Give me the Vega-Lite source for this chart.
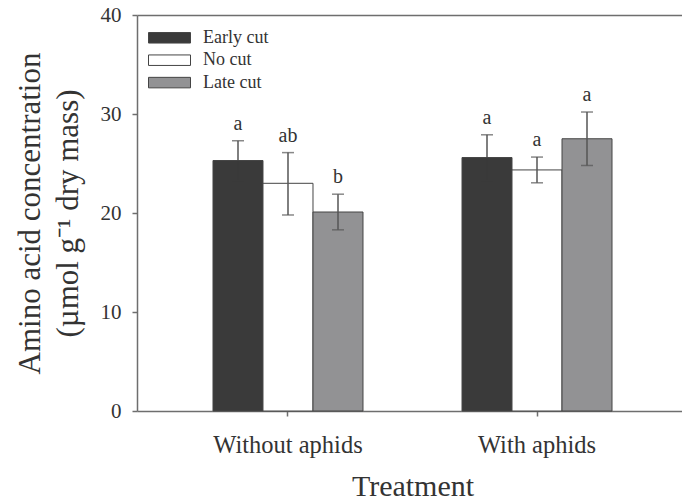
{
  "$schema": "https://vega.github.io/schema/vega-lite/v6.json",
  "autosize": {"type": "none"},
  "padding": {"left": 137, "top": 15, "right": 0, "bottom": 93},
  "width": 545,
  "height": 396,
  "background": "white",
  "config": {
    "view": {"stroke": null},
    "font": "Liberation Serif"
  },
  "data": {
    "values": [
      {"treatment": "Without aphids", "cut": "Early cut", "mean": 25.3, "lo": 23.3, "hi": 27.3, "letter": "a"},
      {"treatment": "Without aphids", "cut": "No cut", "mean": 23.0, "lo": 19.8, "hi": 26.1, "letter": "ab"},
      {"treatment": "Without aphids", "cut": "Late cut", "mean": 20.1, "lo": 18.3, "hi": 21.9, "letter": "b"},
      {"treatment": "With aphids", "cut": "Early cut", "mean": 25.6, "lo": 23.3, "hi": 27.9, "letter": "a"},
      {"treatment": "With aphids", "cut": "No cut", "mean": 24.35, "lo": 23.05, "hi": 25.65, "letter": "a"},
      {"treatment": "With aphids", "cut": "Late cut", "mean": 27.5, "lo": 24.8, "hi": 30.2, "letter": "a"}
    ]
  },
  "encoding": {
    "x": {
      "field": "treatment", "type": "nominal",
      "sort": ["Without aphids", "With aphids"],
      "scale": {"range": [0, 551], "paddingInner": 0.3976, "paddingOuter": 0.3052},
      "axis": null
    },
    "xOffset": {
      "field": "cut", "type": "nominal",
      "sort": ["Early cut", "No cut", "Late cut"],
      "scale": {"paddingInner": 0, "paddingOuter": 0}
    }
  },
  "layer": [
    {
      "mark": {"type": "bar", "stroke": "#444", "strokeWidth": 1},
      "encoding": {
        "x": {
          "field": "treatment", "type": "nominal",
          "sort": ["Without aphids", "With aphids"],
          "title": "Treatment",
          "axis": {
            "orient": "bottom",
            "domainColor": "#6e6e6e", "domainWidth": 1.5,
            "tickColor": "#6e6e6e", "tickWidth": 1.5, "tickSize": 5,
            "labelAngle": 0, "labelFont": "Liberation Serif", "labelFontSize": 24.5,
            "labelColor": "#333", "labelPadding": 17,
            "titleFont": "Liberation Serif", "titleFontSize": 30, "titleFontWeight": "normal",
            "titleColor": "#333", "titlePadding": 15
          }
        },
        "y": {
          "field": "mean", "type": "quantitative",
          "scale": {"domain": [0, 40], "nice": false},
          "title": ["Amino acid concentration", "(µmol g⁻¹ dry mass)"],
          "axis": {
            "values": [0, 10, 20, 30, 40],
            "grid": false,
            "domainColor": "#6e6e6e", "domainWidth": 1.5,
            "tickColor": "#6e6e6e", "tickWidth": 1.5, "tickSize": 5,
            "labelFont": "Liberation Serif", "labelFontSize": 21, "labelColor": "#333",
            "labelPadding": 11,
            "titleFont": "Liberation Serif", "titleFontSize": 31, "titleFontWeight": "normal",
            "titleColor": "#333", "titlePadding": 16, "titleLineHeight": 38
          }
        },
        "color": {
          "field": "cut", "type": "nominal",
          "scale": {"domain": ["Early cut", "No cut", "Late cut"], "range": ["#3a3a3a", "#ffffff", "#929294"]},
          "legend": {
            "title": null,
            "orient": "none",
            "legendX": 21.5,
            "legendY": 11.8,
            "padding": 0,
            "symbolType": "M-2,-0.5H2V0.5H-2Z",
            "symbolSize": 441,
            "symbolStrokeColor": "#444",
            "symbolStrokeWidth": 1,
            "symbolOpacity": 1,
            "labelFont": "Liberation Serif",
            "labelFontSize": 18,
            "labelColor": "#333",
            "labelOffset": 22.5,
            "rowPadding": 2.4
          }
        }
      }
    },
    {
      "mark": {"type": "rule", "color": "#555", "strokeWidth": 1.5},
      "encoding": {
        "y": {"field": "mean", "type": "quantitative"},
        "y2": {"field": "hi"}
      }
    },
    {
      "mark": {"type": "rule", "strokeWidth": 1.5},
      "encoding": {
        "y": {"field": "lo", "type": "quantitative"},
        "y2": {"field": "mean"},
        "stroke": {
          "condition": {"test": "datum.cut === 'Early cut'", "value": "#3a3a3a"},
          "value": "#555"
        }
      }
    },
    {
      "mark": {"type": "tick", "orient": "horizontal", "size": 12, "thickness": 1.5, "color": "#555"},
      "encoding": {
        "y": {"field": "hi", "type": "quantitative"}
      }
    },
    {
      "mark": {"type": "tick", "orient": "horizontal", "size": 12, "thickness": 1.5},
      "encoding": {
        "y": {"field": "lo", "type": "quantitative"},
        "color": {
          "condition": {"test": "datum.cut === 'Early cut'", "value": "#3a3a3a"},
          "value": "#555"
        }
      }
    },
    {
      "mark": {"type": "text", "font": "Liberation Serif", "fontSize": 20, "color": "#333", "baseline": "alphabetic", "dy": -11},
      "encoding": {
        "y": {"field": "hi", "type": "quantitative"},
        "text": {"field": "letter"}
      }
    },
    {
      "mark": {"type": "rule", "opacity": 0},
      "encoding": {
        "x": {
          "field": "treatment", "type": "nominal",
          "sort": ["Without aphids", "With aphids"],
          "axis": {
            "orient": "top", "title": null, "labels": false, "ticks": false,
            "domainColor": "#6e6e6e", "domainWidth": 1.5
          }
        },
        "y": {"field": "hi", "type": "quantitative"}
      }
    }
  ],
  "resolve": {"axis": {"x": "independent"}}
}
